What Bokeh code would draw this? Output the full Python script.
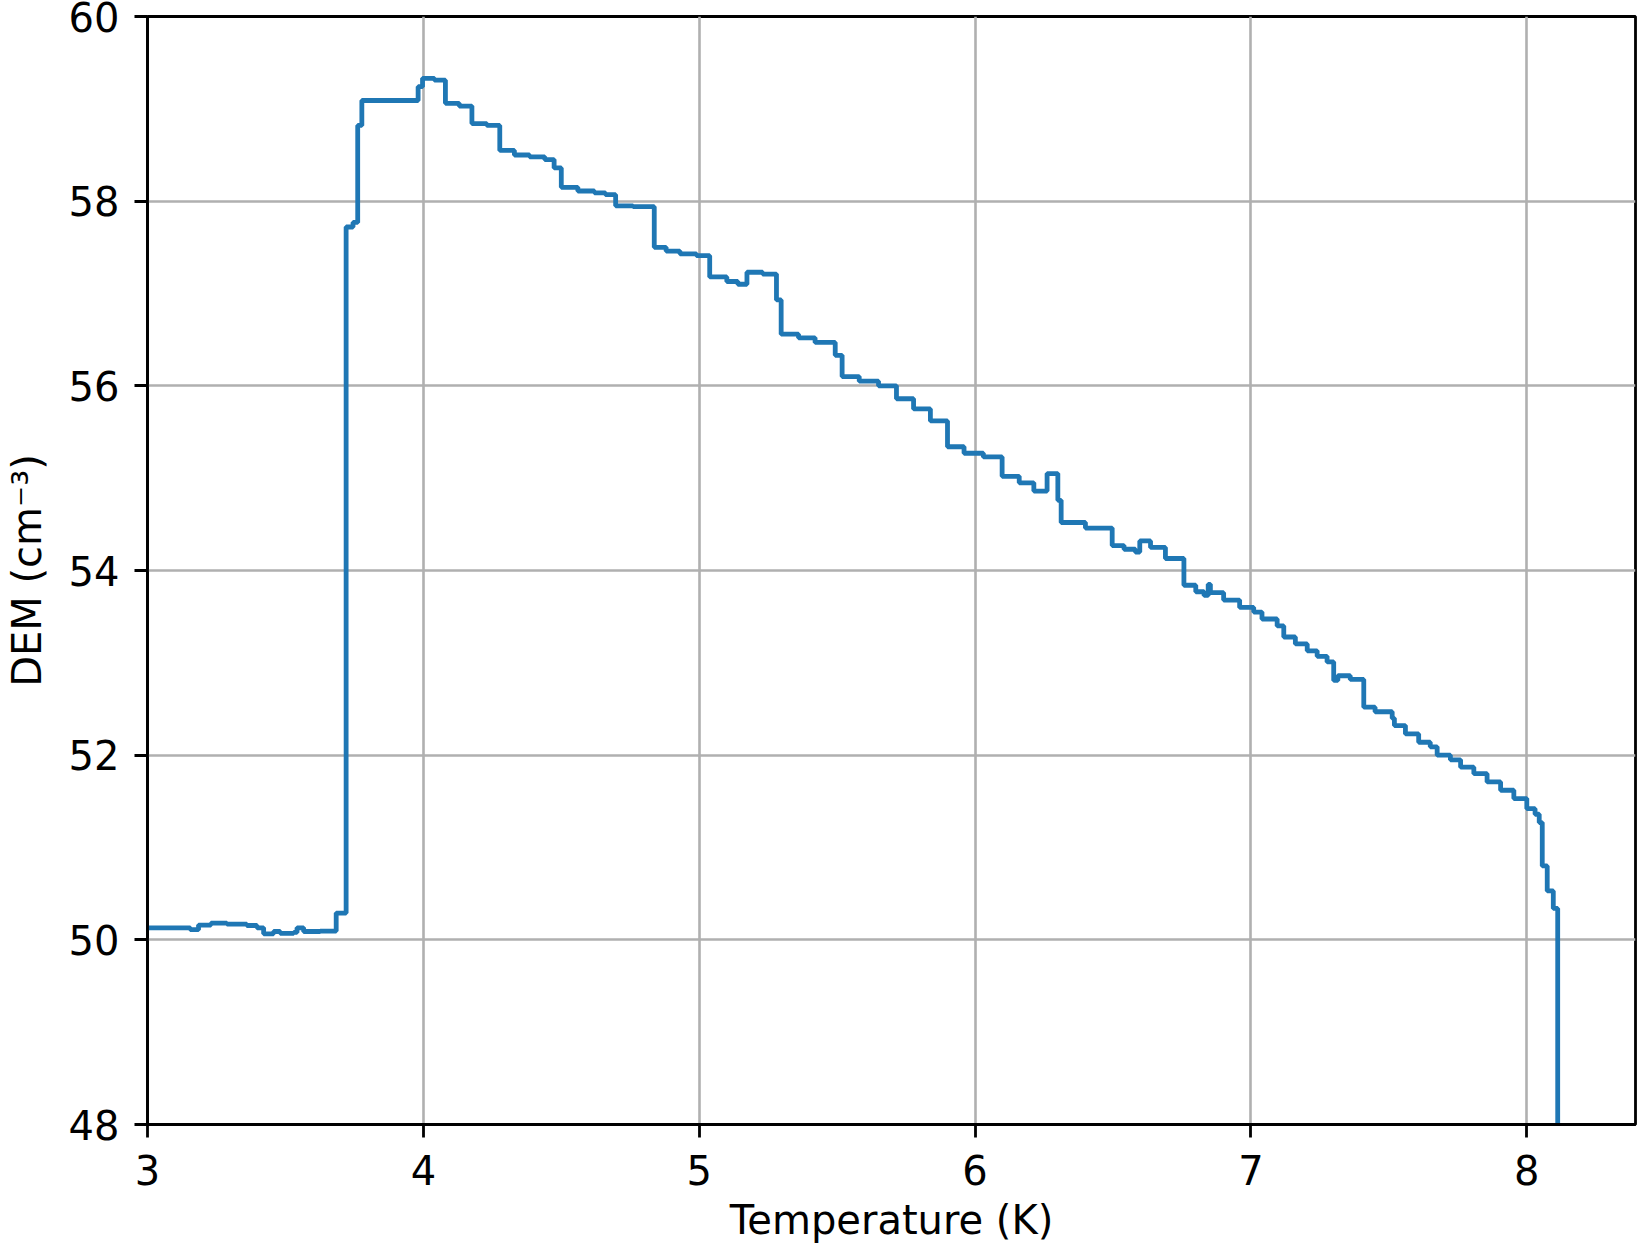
from bokeh.plotting import figure
from bokeh.models import Range1d, FixedTicker
from bokeh.embed import file_html
from bokeh.resources import INLINE

# Step change points (temperature, DEM); each value holds until the next temperature
temperature = [3.000, 3.094, 3.155, 3.185, 3.230, 3.288, 3.360, 3.397, 3.421, 3.457,
               3.481, 3.530, 3.542, 3.566, 3.626, 3.684, 3.720, 3.745, 3.762, 3.777,
               3.981, 3.997, 4.040, 4.080, 4.130, 4.176, 4.230, 4.277, 4.330, 4.385,
               4.440, 4.474, 4.500, 4.560, 4.620, 4.660, 4.697, 4.760, 4.837, 4.880,
               4.930, 4.990, 5.038, 5.100, 5.140, 5.173, 5.230, 5.280, 5.297, 5.360,
               5.420, 5.493, 5.518, 5.580, 5.650, 5.715, 5.777, 5.838, 5.900, 5.960,
               6.030, 6.098, 6.160, 6.213, 6.261, 6.300, 6.312, 6.400, 6.497, 6.540,
               6.581, 6.597, 6.636, 6.690, 6.757, 6.800, 6.830, 6.845, 6.853, 6.901,
               6.959, 7.010, 7.040, 7.095, 7.119, 7.161, 7.204, 7.240, 7.276, 7.300,
               7.315, 7.360, 7.409, 7.450, 7.512, 7.520, 7.560, 7.608, 7.650, 7.675,
               7.723, 7.760, 7.808, 7.856, 7.905, 7.953, 8.000, 8.030, 8.045, 8.056,
               8.074, 8.096, 8.112]

dem = [50.13, 50.13, 50.11, 50.16, 50.18, 50.17, 50.155, 50.13, 50.065, 50.09,
       50.07, 50.08, 50.13, 50.09, 50.095, 50.29, 57.72, 57.77, 58.82, 59.09,
       59.24, 59.33, 59.31, 59.06, 59.03, 58.84, 58.82, 58.55, 58.50, 58.48,
       58.45, 58.36, 58.15, 58.11, 58.09, 58.07, 57.95, 57.94, 57.50, 57.46,
       57.43, 57.41, 57.18, 57.13, 57.10, 57.23, 57.21, 56.93, 56.56, 56.52,
       56.47, 56.33, 56.10, 56.05, 56.00, 55.86, 55.75, 55.62, 55.34, 55.27,
       55.23, 55.02, 54.95, 54.86, 55.05, 54.76, 54.52, 54.46, 54.27, 54.23,
       54.20, 54.32, 54.25, 54.13, 53.84, 53.77, 53.73, 53.85, 53.76, 53.68,
       53.60, 53.55, 53.475, 53.40, 53.28, 53.205, 53.13, 53.07, 53.01, 52.81,
       52.86, 52.82, 52.52, 52.47, 52.40, 52.32, 52.23, 52.14, 52.09, 52.00,
       51.95, 51.87, 51.80, 51.71, 51.62, 51.53, 51.42, 51.36, 51.27, 50.80,
       50.53, 50.34, 30.0]

x_ticks = [3, 4, 5, 6, 7, 8]
y_ticks = [48, 50, 52, 54, 56, 58, 60]

FONT = "DejaVu Sans"

p = figure(width=1638, height=1255, output_backend="svg", toolbar_location=None,
           x_range=Range1d(3.0, 8.394), y_range=Range1d(48, 60),
           min_border_left=147, min_border_right=3, min_border_top=16, min_border_bottom=131)

p.step(temperature, dem, mode="after", line_color="#1f77b4", line_width=4.8)

p.outline_line_color = "black"
p.outline_line_width = 2.8
p.background_fill_color = "white"
p.border_fill_color = "white"

for ax, ticks in ((p.xaxis, x_ticks), (p.yaxis, y_ticks)):
    ax.ticker = FixedTicker(ticks=ticks)
    ax.minor_tick_line_color = None
    ax.major_tick_out = 13
    ax.major_tick_in = 0
    ax.major_tick_line_width = 2.8
    ax.major_tick_line_color = "black"
    ax.axis_line_width = 2.8
    ax.axis_line_color = "black"
    ax.major_label_text_font = FONT
    ax.major_label_text_font_size = "40px"
    ax.major_label_text_color = "black"
    ax.axis_label_text_font = FONT
    ax.axis_label_text_font_size = "40px"
    ax.axis_label_text_font_style = "normal"
    ax.axis_label_text_color = "black"

p.xaxis.axis_label = "Temperature (K)"
p.yaxis.axis_label = "DEM (cm⁻³)"
p.xaxis.major_label_standoff = 17
p.yaxis.major_label_standoff = 15
p.xaxis.axis_label_standoff = 9
p.yaxis.axis_label_standoff = 16

p.grid.grid_line_color = "#b0b0b0"
p.grid.grid_line_width = 2.6
p.grid.grid_line_alpha = 1.0

open("out.html", "w").write(file_html(p, INLINE))
